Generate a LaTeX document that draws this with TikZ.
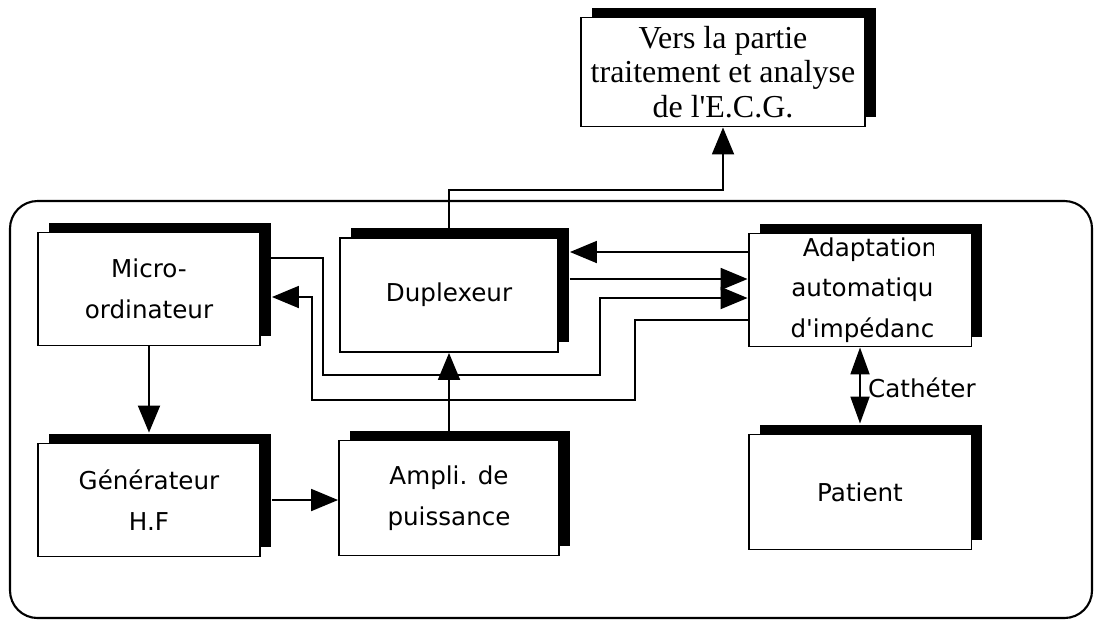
\documentclass[tikz,border=0pt]{standalone}
\usepackage{fontspec}
\newfontfamily\boxfont{DejaVu Sans}
\newfontfamily\versfont{Liberation Serif}
\usepackage{tikz}
\usetikzlibrary{positioning, arrows.meta, shadows}

\begin{document}
\begin{tikzpicture}[
    x=0.02cm, y=-0.02cm,
    blk/.style={rectangle, draw, fill=white, line width=1.1pt,
                minimum width=4.44cm, minimum height=2.26cm, align=center,
                font=\boxfont\fontsize{14}{23}\selectfont,
                drop shadow={shadow xshift=0.22cm, shadow yshift=0.2cm,
                             fill=black, opacity=1}},
    lbl/.style={font=\boxfont\fontsize{14}{23}\selectfont, align=center},
    line/.style={line width=1.1pt},
    arr/.style={line, -{Triangle[length=0.54cm, width=0.44cm]}},
    darr/.style={line, {Triangle[length=0.54cm, width=0.38cm]}-{Triangle[length=0.54cm, width=0.38cm]}},
    frame/.style={rounded corners=0.55cm, line width=1.2pt},
  ]
    \useasboundingbox (0,0) rectangle (1094,620);

    % Outer frame
    \draw[frame] (10,201) rectangle (1092,618);

    % Output box
    \node[blk, minimum width=5.68cm, minimum height=2.18cm,
          font=\versfont\fontsize{18.2}{19.5}\selectfont] (Vers) at (723,72)
          {Vers la partie\\traitement et analyse\\de l'E.C.G.};

    % Top row
    \node[blk] (Micro) at (149,289) {Micro-\\ordinateur};
    \node[blk, minimum width=4.36cm, minimum height=2.28cm] (Dup) at (449,295) {Duplexeur};
    \node[blk, minimum width=4.46cm] (Adapt) at (860,290) {};
    \begin{scope}
      \clip (748,233) rectangle (933,346);
      \node[lbl] (AdaptTxt) at (870,290) {Adaptation\\automatique\\d'impédance};
    \end{scope}

    % Bottom row
    \node[blk] (Gen) at (149,500) {Générateur\\H.F};
    \node[blk, minimum width=4.4cm, minimum height=2.3cm] (Ampli) at (449,498) {Ampli. de\\puissance};
    \node[blk, minimum width=4.46cm, minimum height=2.3cm] (Patient) at (860,492) {Patient};

    % Connectors
    \draw[arr] (Micro.south) -- ([yshift=0.2cm]Gen.north);
    \draw[arr] ([xshift=0.22cm]Gen.east) -- (Ampli.west |- Gen.east);
    \draw[arr] (Ampli.north) -- (Dup.south);
    \draw[arr] (Dup.north) -- (Dup.north |- 0,190) -| (Vers.south);
    \draw[arr] (Adapt.west |- 0,252) -- ([xshift=0.22cm]Dup.east |- 0,252);
    \draw[arr] ([xshift=0.22cm]Dup.east |- 0,279) -- (Adapt.west |- 0,279);
    \draw[arr] (Micro.east |- 0,258) -| (323,375) -| (600,298) -- (Adapt.west |- 0,298);
    \draw[arr] (Adapt.west |- 0,320) -| (635,400) -| (312,297) -- ([xshift=0.22cm]Micro.east |- 0,297);
    \draw[darr] (Adapt.south) -- ([yshift=0.2cm]Patient.north);
    \node[lbl, anchor=west] (CathLbl) at (862,388) {Cathéter};
\end{tikzpicture}
\end{document}
